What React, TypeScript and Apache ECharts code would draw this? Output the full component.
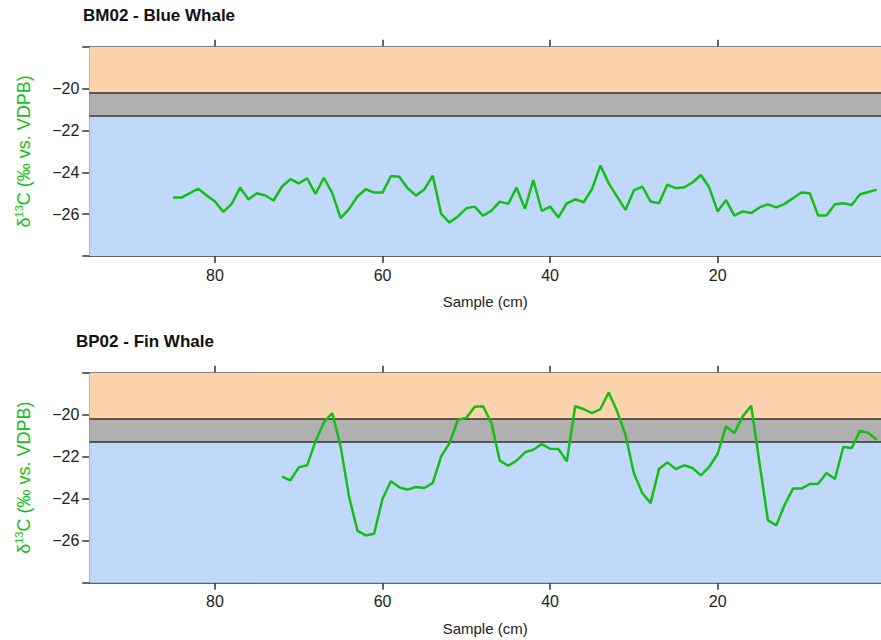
import React, { useEffect, useRef } from "react";
import * as echarts from "echarts";

// ---- data ----
const blueDepth = [85,84,83,82,81,80,79,78,77,76,75,74,73,72,71,70,69,68,67,66,65,64,63,62,61,60,59,58,57,56,55,54,53,52,51,50,49,48,47,46,45,44,43,42,41,40,39,38,37,36,35,34,33,32,31,30,29,28,27,26,25,24,23,22,21,20,19,18,17,16,15,14,13,12,11,10,9,8,7,6,5,4,3,2,1];
const blueD13C = [-25.21,-25.21,-25.0,-24.78,-25.11,-25.4,-25.89,-25.51,-24.73,-25.3,-25.0,-25.11,-25.35,-24.68,-24.33,-24.53,-24.29,-25.03,-24.26,-25.0,-26.19,-25.76,-25.16,-24.81,-24.97,-24.97,-24.18,-24.21,-24.76,-25.11,-24.81,-24.16,-25.99,-26.4,-26.11,-25.72,-25.64,-26.08,-25.83,-25.4,-25.51,-24.73,-25.75,-24.37,-25.84,-25.64,-26.16,-25.48,-25.29,-25.43,-24.81,-23.68,-24.53,-25.16,-25.8,-24.87,-24.68,-25.4,-25.48,-24.59,-24.76,-24.72,-24.49,-24.13,-24.73,-25.87,-25.33,-26.07,-25.87,-25.95,-25.68,-25.53,-25.68,-25.51,-25.24,-24.97,-25.0,-26.07,-26.07,-25.53,-25.48,-25.56,-25.05,-24.94,-24.83];

const finDepth = [72,71,70,69,68,67,66,65,64,63,62,61,60,59,58,57,56,55,54,53,52,51,50,49,48,47,46,45,44,43,42,41,40,39,38,37,36,35,34,33,32,31,30,29,28,27,26,25,24,23,22,21,20,19,18,17,16,15,14,13,12,11,10,9,8,7,6,5,4,3,2,1];
const finD13C = [-22.95,-23.13,-22.51,-22.41,-21.27,-20.36,-19.92,-21.51,-23.89,-25.52,-25.75,-25.67,-24.0,-23.17,-23.46,-23.57,-23.44,-23.49,-23.25,-21.98,-21.35,-20.24,-20.16,-19.62,-19.6,-20.4,-22.19,-22.43,-22.19,-21.79,-21.67,-21.4,-21.62,-21.63,-22.22,-19.6,-19.73,-19.92,-19.73,-18.94,-19.84,-20.95,-22.78,-23.73,-24.21,-22.59,-22.27,-22.59,-22.41,-22.54,-22.89,-22.49,-21.86,-20.56,-20.87,-20.08,-19.57,-22.3,-25.03,-25.27,-24.29,-23.52,-23.52,-23.3,-23.29,-22.78,-23.06,-21.54,-21.59,-20.76,-20.87,-21.19];

const panelTitles = ["BM02 - Blue Whale", "BP02 - Fin Whale"];
const xTicks = [20, 40, 60, 80];
const bandLimits = [-18, -20.2, -21.3, -28];
const bandColors = ["#FCD3AD", "#B0B0B0", "#C0D9FB"];

const FONT = "'Liberation Sans', Arial, Helvetica, sans-serif";
const GREEN = "#14BE14";
const AXIS = "#333333";

export default function App() {
  const ref = useRef<HTMLDivElement>(null);

  useEffect(() => {
    if (!ref.current) return;
    const chart = echarts.init(ref.current, null, { renderer: "svg" });

    const grids = [
      { left: 89.3, right: 0, top: 46.7, height: 209.3 },
      { left: 89.3, right: 0, top: 372.7, height: 210 },
    ];

    const xAxes: any[] = [];
    const yAxes: any[] = [];
    const series: any[] = [];
    const datasets = [
      { d: blueDepth, v: blueD13C },
      { d: finDepth, v: finD13C },
    ];

    grids.forEach((_, i) => {
      const common = {
        type: "value",
        gridIndex: i,
        min: 0.5,
        max: 95,
        inverse: true,
        splitLine: { show: false },
        axisLine: { show: true, onZero: false, lineStyle: { color: AXIS, width: 1.5 } },
        axisTick: { show: true, customValues: xTicks, length: 7, lineStyle: { color: AXIS, width: 1.5 } },
      };
      xAxes.push({
        ...common,
        position: "bottom",
        axisLabel: { customValues: xTicks, fontSize: 16, color: "#222", margin: 11, fontFamily: FONT },
        name: "Sample (cm)",
        nameLocation: "middle",
        nameGap: 38,
        nameTextStyle: { fontSize: 15, color: "#222", fontFamily: FONT },
      });
      xAxes.push({
        ...common,
        position: "top",
        axisLabel: { show: false },
      });
      yAxes.push({
        type: "value",
        gridIndex: i,
        min: -28,
        max: -18,
        interval: 2,
        splitLine: { show: false },
        axisLine: { show: true, onZero: false, lineStyle: { color: AXIS, width: 1.5 } },
        axisTick: { show: true, length: 7, lineStyle: { color: AXIS, width: 1.5 } },
        axisLabel: {
          fontSize: 16,
          color: "#222",
          margin: 10,
          fontFamily: FONT,
          formatter: (val: number) =>
            val === -18 || val === -28 ? "" : (val < 0 ? "\u2212" : "") + Math.abs(val),
        },
        name: "{d|δ}{s|13}{d|C (‰ vs. VDPB)}",
        nameLocation: "middle",
        nameGap: 54,
        nameRotate: 90,
        nameTextStyle: {
          color: GREEN,
          fontFamily: FONT,
          rich: {
            d: { fontSize: 18, lineHeight: 22, color: GREEN, fontFamily: FONT },
            s: { fontSize: 11, lineHeight: 12, color: GREEN, fontFamily: FONT, verticalAlign: "top" },
          },
        },
      });

      const ds = datasets[i];
      series.push({
        type: "line",
        xAxisIndex: i * 2,
        yAxisIndex: i,
        data: ds.d.map((x, k) => [x, ds.v[k]]),
        showSymbol: false,
        symbol: "none",
        lineStyle: { color: GREEN, width: 2.5 },
        z: 5,
        silent: true,
        markArea: {
          silent: true,
          data: bandColors.map((c, k) => [
            { yAxis: bandLimits[k], itemStyle: { color: c } },
            { yAxis: bandLimits[k + 1] },
          ]),
        },
        markLine: {
          silent: true,
          symbol: "none",
          label: { show: false },
          lineStyle: { color: AXIS, width: 1.5, type: "solid" },
          data: [{ yAxis: bandLimits[1] }, { yAxis: bandLimits[2] }],
        },
      });
    });

    chart.setOption({
      animation: false,
      backgroundColor: "#ffffff",
      title: [
        {
          text: panelTitles[0],
          left: 83,
          top: 7,
          padding: 0,
          textStyle: { fontSize: 17, fontWeight: "bold", color: "#111", fontFamily: FONT },
        },
        {
          text: panelTitles[1],
          left: 76,
          top: 333,
          padding: 0,
          textStyle: { fontSize: 17, fontWeight: "bold", color: "#111", fontFamily: FONT },
        },
      ],
      grid: grids,
      xAxis: xAxes,
      yAxis: yAxes,
      series,
    });

    return () => chart.dispose();
  }, []);

  return (
    <div
      ref={ref}
      style={{ position: "fixed", left: 0, top: 0, width: 881, height: 640, background: "#fff" }}
    />
  );
}
